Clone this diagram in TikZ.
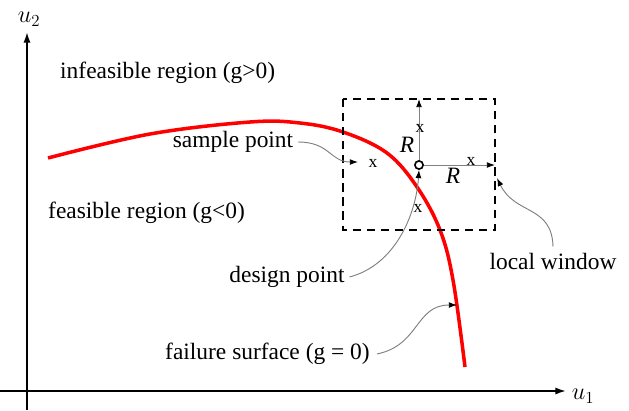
\documentclass[tikz,border=0pt]{standalone}
\usepackage{fontspec}
\setmainfont{Liberation Serif}
\usetikzlibrary{arrows.meta}

\begin{document}
\begin{tikzpicture}[x=0.03cm, y=-0.03cm, font=\fontsize{20}{24}\selectfont,
    axis/.style={line width=1.5pt, -{Latex[length=9pt,width=6pt]}},
    pointer/.style={gray, line width=0.8pt, -{Latex[black,length=7pt,width=5pt]}},
    xlabel/.style={inner sep=0pt, font=\fontsize{15}{17}\selectfont},
    rlabel/.style={inner sep=0pt, font=\fontsize{20}{24}\selectfont\itshape}]
    \useasboundingbox (0,0) rectangle (629,410);

    % Axes of the standard normal space.
    \coordinate (xbeg) at (0,391);
    \coordinate (xend) at (566,391);
    \coordinate (ybeg) at (27,410);
    \coordinate (yend) at (27,32);
    \draw[axis] (xbeg) -- (xend);
    \draw[axis] (ybeg) -- (yend);
    \node (u1) at (583,396) {$u_1$};
    \node (u2) at (29,19) {$u_2$};

    % Region names.
    \node[anchor=west, inner sep=0pt] (infeas) at (60,73) {infeasible region (g>0)};
    \node[anchor=west, inner sep=0pt] (feas) at (48,213) {feasible region (g<0)};

    % The limit state curve.
    \draw[red, line width=3pt] plot[smooth, tension=0.6] coordinates {
        (48,158) (150,134) (250,122) (300,123) (343,132) (387,153)
        (417,187) (440,230) (453,280) (465,367)};

    % The local window round the design point.
    \coordinate (wnw) at (343,99);
    \coordinate (wse) at (495,230);
    \draw[line width=1.6pt, dash pattern=on 7pt off 5pt] (wnw) rectangle (wse);

    % Design point and the two half widths R.
    \node[circle, draw, line width=1.4pt, fill=white, inner sep=0pt,
          minimum size=7pt] (dp) at (419,165) {};
    \coordinate (wtop) at (419,99);
    \coordinate (wright) at (495,165);
    \draw[pointer] (dp) -- (wtop);
    \draw[pointer] (dp) -- (wright);
    \node[rlabel] (rup) at (407,145) {R};
    \node[rlabel] (rright) at (453,176) {R};

    % Sample points.
    \node[xlabel] (s1) at (420,128) {x};
    \node[xlabel] (s2) at (471,161) {x};
    \node[xlabel] (s3) at (373,163) {x};
    \node[xlabel] (s4) at (418,208) {x};

    % Labels with their pointers.
    \node[inner sep=0pt] (sample) at (233,142) {sample point};
    \node[inner sep=0pt] (design) at (287,277) {design point};
    \node[inner sep=0pt] (window) at (553,261) {local window};
    \node[anchor=west, inner sep=0pt] (surface) at (165,354) {failure surface (g = 0)};
    \coordinate (stip) at (358,162);
    \coordinate (wtip) at (497,178);
    \coordinate (ftip) at (457,305);
    \draw[pointer] ([xshift=4pt]sample.east) .. controls (330,142) and (330,162) .. (stip);
    \draw[pointer] ([xshift=4pt]design.east) .. controls (395,265) and (416,215) .. (dp.south);
    \draw[pointer] ([yshift=5pt]window.north) .. controls (552,205) and (515,215) .. (wtip);
    \draw[pointer] ([xshift=6pt]surface.east) .. controls (420,345) and (415,305) .. (ftip);
\end{tikzpicture}
\end{document}
